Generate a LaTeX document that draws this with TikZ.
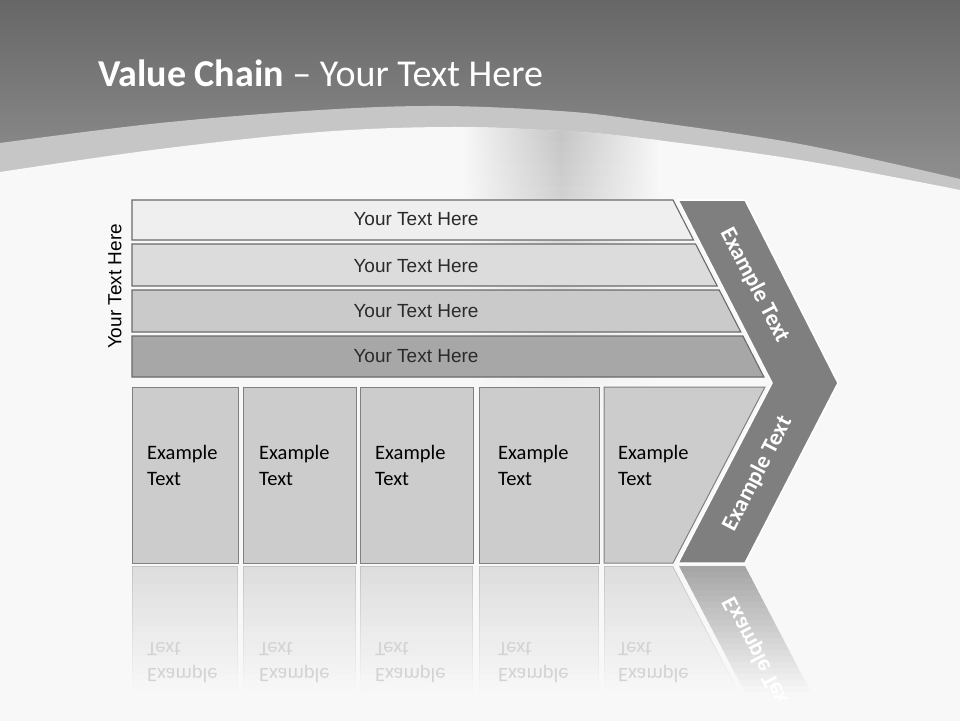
\documentclass[tikz,border=0pt]{standalone}
\usepackage{fontspec}
\setmainfont{Carlito}
\newfontfamily\arialf{Liberation Sans}
\usepackage{graphicx}
\definecolor{hdtop}{HTML}{676767}
\definecolor{hdbot}{HTML}{939393}
\definecolor{bandc}{HTML}{C6C6C6}
\definecolor{bgc}{HTML}{F8F8F8}
\definecolor{blobc}{HTML}{C4C4C4}
\definecolor{barA}{HTML}{EFEFEF}
\definecolor{barB}{HTML}{DCDCDC}
\definecolor{barC}{HTML}{CACACA}
\definecolor{barD}{HTML}{A7A7A7}
\definecolor{barline}{HTML}{6A6A6A}
\definecolor{boxfill}{HTML}{CCCCCC}
\definecolor{boxline}{HTML}{808080}
\definecolor{chev}{HTML}{7F7F7F}
\definecolor{bartext}{HTML}{2A2A2A}
\definecolor{refltxt}{HTML}{D3D3D3}
\definecolor{reflbox}{HTML}{DEDEDE}
\definecolor{reflline}{HTML}{C4C4C4}
\definecolor{reflchev}{HTML}{A6A6A6}
\begin{document}
\begin{tikzpicture}[x=1pt,y=-1pt,
  barshape/.style={draw=barline, line width=1.1pt},
  boxshape/.style={fill=boxfill, draw=boxline, line width=1pt},
  bartxt/.style={font=\arialf\fontsize{19}{22}\selectfont, text=bartext, inner sep=0pt},
  boxtxt/.style={anchor=base west, inner sep=0pt, font=\fontsize{20.5}{25.7}\selectfont, text=black},
  refltx/.style={anchor=base west, inner sep=0pt, font=\fontsize{20.5}{25.7}\selectfont, text=refltxt},
  chevtxt/.style={font=\bfseries\fontsize{23}{28}\selectfont, text=white, inner sep=0pt}
]
\useasboundingbox (0,0) rectangle (960,720);
% header
\shade[top color=hdtop, bottom color=hdbot] (0,0) rectangle (960,200);
\fill[bandc] plot[smooth, tension=0.6] coordinates {(0,143) (160,123) (320,110) (440,106) (560,111) (640,120) (800,144) (960,179)} -- (960,720) -- (0,720) -- cycle;
\fill[bgc] plot[smooth, tension=0.6] coordinates {(0,172) (160,149) (320,132) (450,127) (560,131) (640,138) (800,160) (960,190)} -- (960,720) -- (0,720) -- cycle;
% soft background blob
\begin{scope}
\clip plot[smooth, tension=0.6] coordinates {(0,172) (160,149) (320,132) (450,127) (560,131) (640,138) (800,160) (960,190)} -- (960,720) -- (0,720) -- cycle;
\foreach \i in {0,...,27} {
  \pgfmathsetmacro{\pp}{max(0,100-\i*3.8)}
  \shade[left color=bgc, right color=bgc, middle color=blobc!\pp!bgc] (462,{120+\i*11}) rectangle (660,{131.5+\i*11});
}
\end{scope}
% title
\node[anchor=base west, inner sep=0pt, text=white, font=\fontsize{38}{44}\selectfont] (title) at (98,86) {\textbf{Value Chain} – Your Text Here};
% bars
\filldraw[barshape, fill=barA] (132,200) -- (673,200) -- (693.5,240) -- (132,240) -- cycle;
\filldraw[barshape, fill=barB] (132,244) -- (695.6,244) -- (717.2,286) -- (132,286) -- cycle;
\filldraw[barshape, fill=barC] (132,290) -- (719.2,290) -- (740.8,332) -- (132,332) -- cycle;
\filldraw[barshape, fill=barD] (132,336) -- (742.9,336) -- (763.9,377) -- (132,377) -- cycle;
\node[bartxt] (b1) at (416,219) {Your Text Here};
\node[bartxt] (b2) at (416,266.5) {Your Text Here};
\node[bartxt] (b3) at (416,311.5) {Your Text Here};
\node[bartxt] (b4) at (416,356.5) {Your Text Here};
\node[font=\arialf\fontsize{19}{22}\selectfont, text=black, inner sep=0pt, rotate=90] (vt) at (115,286.5) {Your Text Here};
% chevron
\filldraw[fill=chev, draw=white, line width=1.5pt] (678,200) -- (745,200) -- (838,383) -- (745,563) -- (678,563) -- (772,383) -- cycle;
\node[chevtxt, rotate=-62.5] (c1) at (754.5,285) {Example Text};
\node[chevtxt, rotate=62.5] (c2) at (757.5,473.5) {Example Text};
% boxes
\filldraw[boxshape] (132,387) rectangle (238,563);
\filldraw[boxshape] (243,387) rectangle (356,563);
\filldraw[boxshape] (360,387) rectangle (473,563);
\filldraw[boxshape] (479,387) rectangle (599,563);
\filldraw[boxshape] (604,387) -- (765,387) -- (673,563) -- (604,563) -- cycle;
\node[boxtxt] (t1) at (147,459.5) {\vtop{\hbox{Example}\hbox{Text}}};
\node[boxtxt] (t2) at (259,459.5) {\vtop{\hbox{Example}\hbox{Text}}};
\node[boxtxt] (t3) at (375,459.5) {\vtop{\hbox{Example}\hbox{Text}}};
\node[boxtxt] (t4) at (498,459.5) {\vtop{\hbox{Example}\hbox{Text}}};
\node[boxtxt] (t5) at (618,459.5) {\vtop{\hbox{Example}\hbox{Text}}};
% reflections of the boxes (fading strips)
\foreach \xa/\xb in {132/238, 243/356, 360/473, 479/599} {
  \begin{scope}
    \clip (\xa,566) rectangle (\xb,700);
    \foreach \i in {0,...,21} {
      \pgfmathsetmacro{\pp}{max(0,100-\i*4.8)}
      \fill[reflline!\pp!bgc] (\xa,{566+\i*6}) rectangle (\xb,{572.7+\i*6});
    }
  \end{scope}
  \begin{scope}
    \clip (\xa+1,567) rectangle (\xb-1,700);
    \foreach \i in {0,...,21} {
      \pgfmathsetmacro{\pp}{max(0,100-\i*4.8)}
      \fill[reflbox!\pp!bgc] (\xa,{566+\i*6}) rectangle (\xb,{572.7+\i*6});
    }
  \end{scope}
}
\begin{scope}
  \clip (604,566) -- (673,566) -- (743,700) -- (604,700) -- cycle;
  \foreach \i in {0,...,21} {
    \pgfmathsetmacro{\pp}{max(0,100-\i*4.8)}
    \fill[reflline!\pp!bgc] (604,{566+\i*6}) rectangle (760,{572.7+\i*6});
  }
\end{scope}
\begin{scope}
  \clip (605,567) -- (672.4,567) -- (741.8,700) -- (605,700) -- cycle;
  \foreach \i in {0,...,21} {
    \pgfmathsetmacro{\pp}{max(0,100-\i*4.8)}
    \fill[reflbox!\pp!bgc] (604,{566+\i*6}) rectangle (760,{572.7+\i*6});
  }
\end{scope}
\node[refltx] (r1) at (147,668) {\scalebox{1}[-1]{\vtop{\hbox{Example}\hbox{Text}}}};
\node[refltx] (r2) at (259,668) {\scalebox{1}[-1]{\vtop{\hbox{Example}\hbox{Text}}}};
\node[refltx] (r3) at (375,668) {\scalebox{1}[-1]{\vtop{\hbox{Example}\hbox{Text}}}};
\node[refltx] (r4) at (498,668) {\scalebox{1}[-1]{\vtop{\hbox{Example}\hbox{Text}}}};
\node[refltx] (r5) at (618,668) {\scalebox{1}[-1]{\vtop{\hbox{Example}\hbox{Text}}}};
% reflection of the chevron arm
\begin{scope}
  \clip (679,566) -- (745,566) -- (815,700) -- (749,700) -- cycle;
  \foreach \i in {0,...,21} {
    \pgfmathsetmacro{\pp}{max(0,100-\i*4.8)}
    \fill[reflchev!\pp!bgc] (670,{566+\i*6}) rectangle (830,{572.7+\i*6});
  }
  \node[chevtxt, rotate=-62.5] (rc) at (757.5,654.5) {\scalebox{1}[-1]{Example Text}};
\end{scope}
\end{tikzpicture}
\end{document}
